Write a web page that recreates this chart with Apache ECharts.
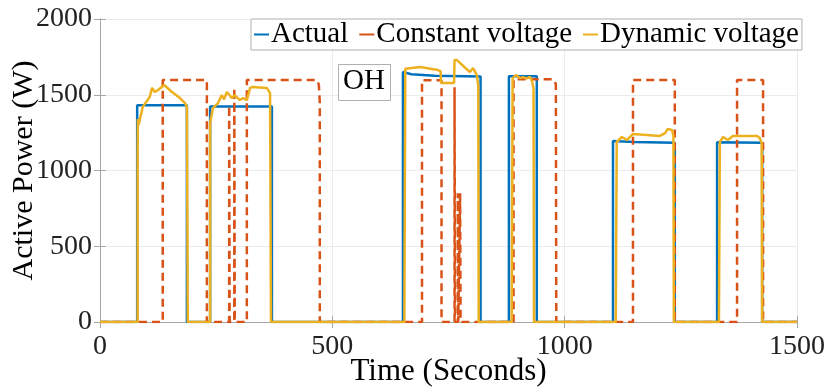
<!DOCTYPE html>
<html>
<head>
<meta charset="utf-8">
<script src="https://cdn.jsdelivr.net/npm/echarts@6/dist/echarts.min.js"></script>
<style>
  html, body { margin: 0; padding: 0; background: #fff; }
  #chart { width: 830px; height: 390px; }
</style>
</head>
<body>
<div id="chart"></div>
<script>
// time (s) / active power (W) points
var actualPts = [
  [0,0],[80,0],[80,1430],[187,1430],[187,0],
  [237,0],[237,1422],[370,1422],[370,0],
  [652,0],[652,1650],[670,1635],[720,1625],[819,1620],[819,0],
  [880,0],[880,1622],[940,1622],[940,0],
  [1104,0],[1104,1195],[1150,1188],[1237,1183],[1237,0],
  [1328,0],[1328,1186],[1425,1183],[1425,0],[1500,0]
];
var constantPts = [
  [0,0],[135,0],[135,1597],[230,1597],[230,0],
  [278,0],[278,1430],[279,0],
  [289,0],[289,1545],[290,0],
  [316,0],[316,1597],[467,1597],[471,1565],[473,1450],[473,0],
  [693,0],[693,1595],[735,1595],[735,0],
  [763,0],[763,1550],[764,0],
  [770,0],[770,850],[771,0],
  [775,0],[775,850],[776,0],
  [890,0],[890,1602],[976,1602],[981,1570],[982,0],
  [1147,0],[1147,1597],[1237,1597],[1237,0],
  [1371,0],[1371,1597],[1427,1597],[1427,0],[1500,0]
];
var dynamicPts = [
  [0,0],[81,0],[81,1120],[81.5,1340],[83,1300],[92,1420],[107,1485],[112,1545],[118,1518],
  [125,1531],[129,1518],[138,1564],[155,1518],[172,1478],[183,1445],[187,1420],[189,0],
  [237,0],[237,1313],[243,1412],[254,1445],[262,1498],[267,1470],[273,1518],[284,1478],
  [290,1498],[301,1465],[308,1478],[316,1465],[323,1545],[329,1551],[359,1545],[366,1511],[368,0],
  [655,0],[657,1672],[661,1678],[689,1683],[727,1663],[733,1655],[734,1578],[762,1578],
  [763,1729],[768,1729],[796,1650],[803,1676],[811,1630],[814,1560],[815,0],
  [886,0],[888,1610],[895,1630],[904,1610],[910,1616],[919,1608],[925,1618],[930,1590],[933,1540],[934,0],
  [1110,0],[1112,1188],[1123,1221],[1134,1201],[1147,1241],[1205,1228],[1216,1247],
  [1222,1274],[1231,1267],[1234,1230],[1235,0],
  [1332,0],[1334,1188],[1341,1221],[1351,1201],[1362,1228],[1414,1228],[1420,1214],[1424,1180],[1425,0],[1500,0]
];
var xTicks = [0, 500, 1000, 1500];
var yTicks = [0, 500, 1000, 1500, 2000];

var serif = '"Liberation Serif", "DejaVu Serif", serif';
var axisGray = '#a6a6a6';
var plain = function (v) { return String(v); };

var myChart = echarts.init(document.getElementById('chart'));
myChart.setOption({
  animation: false,
  grid: { left: 100, right: 33, top: 19, bottom: 68, containLabel: false, outerBoundsMode: 'none' },
  legend: {
    left: 251,
    top: 19,
    padding: [1, 3, 1, 3],
    itemGap: 11,
    itemWidth: 15,
    itemHeight: 2,
    icon: 'rect',
    borderColor: '#b0b0b0',
    borderWidth: 1,
    backgroundColor: '#fff',
    textStyle: { fontFamily: serif, fontSize: 29, color: '#000', padding: [0, 0, 0, -3] },
    data: ['Actual', 'Constant voltage', 'Dynamic voltage']
  },
  xAxis: [
    {
      type: 'value',
      min: xTicks[0], max: xTicks[xTicks.length - 1], interval: 500,
      name: 'Time (Seconds)', nameLocation: 'middle', nameGap: 34, nameMoveOverlap: false,
      nameTextStyle: { fontFamily: serif, fontSize: 31, color: '#000' },
      axisLine: { show: true, onZero: false, lineStyle: { color: axisGray } },
      axisTick: { show: true, inside: true, length: 6, lineStyle: { color: axisGray } },
      axisLabel: { fontFamily: serif, fontSize: 28, color: '#222', margin: 11, formatter: plain },
      splitLine: { show: true, lineStyle: { color: '#ebebeb' } }
    },
    {
      type: 'value', position: 'top',
      min: xTicks[0], max: xTicks[xTicks.length - 1], interval: 500,
      axisLine: { show: true, lineStyle: { color: axisGray } },
      axisTick: { show: true, inside: true, length: 6, lineStyle: { color: axisGray } },
      axisLabel: { show: false },
      splitLine: { show: false }
    }
  ],
  yAxis: [
    {
      type: 'value',
      min: yTicks[0], max: yTicks[yTicks.length - 1], interval: 500,
      name: 'Active Power (W)', nameLocation: 'middle', nameGap: 61, nameMoveOverlap: false,
      nameTextStyle: { fontFamily: serif, fontSize: 30, color: '#000' },
      axisLine: { show: true, lineStyle: { color: axisGray } },
      axisTick: { show: true, inside: true, length: 6, lineStyle: { color: axisGray } },
      axisLabel: { fontFamily: serif, fontSize: 28, color: '#222', margin: 8, formatter: plain },
      splitLine: { show: true, lineStyle: { color: '#ebebeb' } }
    },
    {
      type: 'value', position: 'right',
      min: yTicks[0], max: yTicks[yTicks.length - 1], interval: 500,
      axisLine: { show: true, lineStyle: { color: axisGray } },
      axisTick: { show: true, inside: true, length: 6, lineStyle: { color: axisGray } },
      axisLabel: { show: false },
      splitLine: { show: false }
    }
  ],
  series: [
    {
      name: 'Actual', type: 'line', data: actualPts, symbol: 'none',
      lineStyle: { color: '#0072BD', width: 2.5 }, itemStyle: { color: '#0072BD' }
    },
    {
      name: 'Constant voltage', type: 'line', data: constantPts, symbol: 'none',
      lineStyle: { color: '#D95319', width: 2.5, type: [8, 5] }, itemStyle: { color: '#D95319' }
    },
    {
      name: 'Dynamic voltage', type: 'line', data: dynamicPts, symbol: 'none',
      lineStyle: { color: '#EDB120', width: 2.5 }, itemStyle: { color: '#EDB120' }
    }
  ],
  graphic: [
    {
      type: 'rect', left: 338, top: 64, z: 10,
      shape: { width: 52, height: 36 },
      style: { fill: '#fff', stroke: '#b0b0b0', lineWidth: 1 }
    },
    {
      type: 'text', left: 343, top: 67, z: 11,
      style: { text: 'OH', font: '29px ' + serif, fill: '#000' }
    }
  ]
});
</script>
</body>
</html>
